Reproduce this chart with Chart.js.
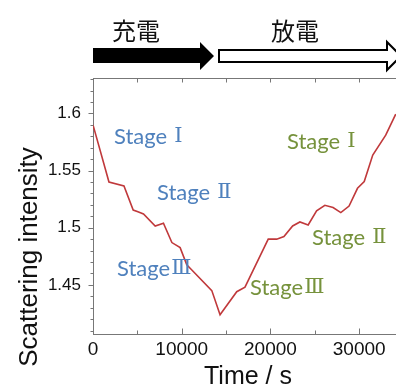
<!DOCTYPE html>
<html><head><meta charset="utf-8">
<script src="https://cdn.jsdelivr.net/npm/chart.js@4/dist/chart.umd.min.js"></script>
<style>html,body{margin:0;padding:0;background:#fff;}#wrap{width:396px;height:385px;position:relative;}</style>
</head><body><div id="wrap"><canvas id="c" width="396" height="385"></canvas></div>
<script>
// ---- data ----
const timeS = [0,1800,3490,4530,5060,5690,7010,7940,8890,9820,10570,11140,13390,14320,16200,17130,19750,20700,21520,22500,23320,24250,25200,26130,27060,27930,28860,29810,30570,31530,32990,34120];
const intensity = [1.590,1.540,1.5365,1.5155,1.514,1.512,1.5015,1.504,1.487,1.4826,1.4675,1.463,1.445,1.4238,1.444,1.448,1.490,1.490,1.4922,1.5015,1.505,1.5024,1.5147,1.5196,1.5177,1.5132,1.519,1.5345,1.5404,1.5636,1.581,1.5994];
const xTickValues = [0,10000,20000,30000];
const yTickValues = [1.45,1.5,1.55,1.6];
const phaseLabels = ["充電","放電"];
const stageLabels = ["Stage Ⅰ","Stage Ⅱ","StageⅢ","Stage Ⅰ","Stage Ⅱ","StageⅢ"];
const xTitle = "Time / s";
const yTitle = "Scattering intensity";

// ---- layout / style ----
const stagePos = [[114,137],[157,193],[117,269],[287,142],[312,238],[250,288]];
const stageColors = ["#4f81bd","#4f81bd","#4f81bd","#76923c","#76923c","#76923c"];
const axisColor = "#777";

const decor = {
  id:'decor',
  afterDraw(chart){
    const {ctx, chartArea:a, scales:{x,y}} = chart;
    ctx.save();
    // axis frame pieces and ticks
    ctx.strokeStyle = axisColor; ctx.lineWidth = 1;
    const seg=(x1,y1,x2,y2)=>{ctx.beginPath();ctx.moveTo(x1,y1);ctx.lineTo(x2,y2);ctx.stroke();};
    const top = Math.round(a.top)+0.5, bot = Math.round(a.bottom)+0.5, left = Math.round(a.left)+0.5;
    seg(a.left, top, a.right, top);
    for (let v=0; v<=x.max; v+=5000){
      const px = Math.round(x.getPixelForValue(v))+0.5;
      const major = v%10000===0;
      seg(px, bot, px, bot-(major?6:4));
      seg(px, top, px, top+4);
    }
    for (let k=141; k<=163; k++){
      const py = Math.round(y.getPixelForValue(k/100))+0.5;
      const major = k%5===0;
      seg(left, py, left-(major?5:3), py);
    }
    // axis titles
    ctx.fillStyle = "#111";
    ctx.font = "25px 'Liberation Sans', Arial, sans-serif";
    ctx.textAlign = "center"; ctx.textBaseline = "alphabetic";
    ctx.fillText(xTitle, 248, 384);
    ctx.save();
    ctx.translate(37, 257); ctx.rotate(-Math.PI/2);
    ctx.font = "26px 'Liberation Sans', Arial, sans-serif";
    ctx.fillText(yTitle, 0, 0);
    ctx.restore();
    // phase labels and arrows
    ctx.font = "24px 'Noto Sans CJK JP', sans-serif";
    ctx.textBaseline = "middle";
    ctx.fillText(phaseLabels[0], 136, 31);
    ctx.fillText(phaseLabels[1], 295, 31);
    // black arrow
    ctx.fillStyle = "#000";
    ctx.beginPath();
    ctx.moveTo(93,48); ctx.lineTo(200,48); ctx.lineTo(200,42); ctx.lineTo(214,56);
    ctx.lineTo(200,70); ctx.lineTo(200,63); ctx.lineTo(93,63); ctx.closePath(); ctx.fill();
    // white arrow
    ctx.fillStyle = "#fff"; ctx.strokeStyle = "#000"; ctx.lineWidth = 2;
    ctx.beginPath();
    ctx.moveTo(219,50); ctx.lineTo(387,50); ctx.lineTo(387,42); ctx.lineTo(401,56);
    ctx.lineTo(387,70); ctx.lineTo(387,62); ctx.lineTo(219,62); ctx.closePath(); ctx.fill(); ctx.stroke();
    // stage labels
    ctx.textAlign = "left"; ctx.textBaseline = "middle";
    stageLabels.forEach((s,i)=>{
      const m = s.match(/^(\S+?)(\s?)([ⅠⅡⅢ])$/);
      ctx.fillStyle = stageColors[i];
      ctx.font = "22px Lato, sans-serif";
      let [px,py] = stagePos[i];
      ctx.fillText(m[1], px, py);
      let w = ctx.measureText(m[1]).width + (m[2] ? 7 : 1);
      ctx.font = "21px 'DejaVu Serif', 'Noto Sans CJK JP', serif";
      ctx.fillText(m[3], px + w, py);
    });
    ctx.restore();
  }
};

new Chart(document.getElementById('c'), {
  type:'line',
  data:{datasets:[{
    data: timeS.map((t,i)=>({x:t,y:intensity[i]})),
    borderColor:'#c0393b', borderWidth:1.6, pointRadius:0, tension:0, fill:false
  }]},
  options:{
    responsive:false, animation:false, devicePixelRatio:1,
    layout:{padding:{top:78,left:0,right:0,bottom:0}},
    plugins:{legend:{display:false},tooltip:{enabled:false}},
    scales:{
      x:{type:'linear', min:0, max:34150,
        afterBuildTicks:s=>{s.ticks = xTickValues.map(v=>({value:v}));},
        afterFit:s=>{s.height = 51;},
        ticks:{font:{family:"'Liberation Sans', Arial, sans-serif", size:19}, color:'#111', padding:4, maxRotation:0, autoSkip:false, callback:v=>String(v)},
        grid:{display:true, drawOnChartArea:false, drawTicks:false},
        border:{color:axisColor, width:1}},
      y:{min:1.407, max:1.631,
        afterBuildTicks:s=>{s.ticks = yTickValues.map(v=>({value:v}));},
        afterFit:s=>{s.width = 93;},
        ticks:{font:{family:"'Liberation Sans', Arial, sans-serif", size:17}, color:'#111', padding:12, callback:v=>String(+v.toFixed(2))},
        grid:{display:true, drawOnChartArea:false, drawTicks:false},
        border:{color:axisColor, width:1}}
    }
  },
  plugins:[decor]
});
</script></body></html>
